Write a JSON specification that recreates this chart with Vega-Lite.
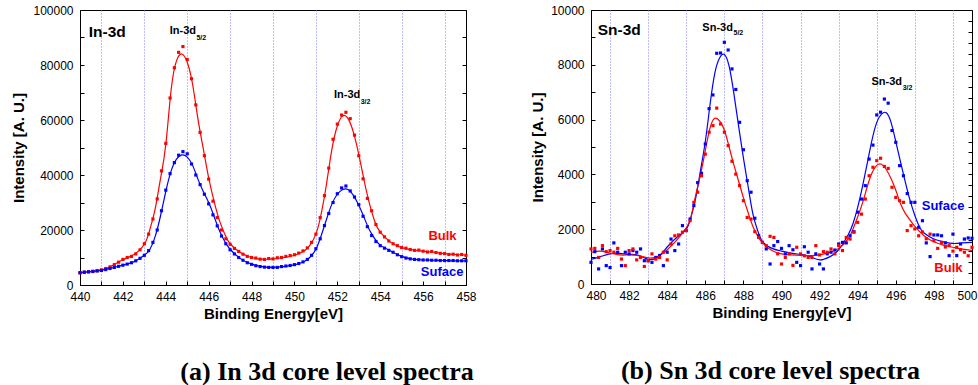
{
 "$schema": "https://vega.github.io/schema/vega-lite/v6.json",
 "background": "white",
 "padding": {"left": 11, "top": 3, "right": 0, "bottom": 0},
 "spacing": 53,
 "config": {
  "view": {"stroke": "black", "strokeWidth": 1},
  "axis": {"labelFont": "Liberation Sans", "labelFontSize": 12, "labelColor": "black", "titleFont": "Liberation Sans", "titleFontSize": 15, "titleFontWeight": "bold", "titleColor": "black", "tickColor": "black", "tickWidth": 1, "domainColor": "black", "domainWidth": 1, "labelFlush": false, "labelOverlap": false},
  "title": {"font": "Liberation Serif", "fontSize": 26, "fontWeight": "bold", "color": "black", "orient": "bottom", "frame": "group", "anchor": "middle"},
  "text": {"font": "Liberation Sans"}
 },
 "datasets": {
  "inPts": [
   {"s":"Bulk","x":440,"y":4400},{"s":"Bulk","x":440.2,"y":4600},{"s":"Bulk","x":440.4,"y":4800},{"s":"Bulk","x":440.6,"y":5000},{"s":"Bulk","x":440.8,"y":5200},
   {"s":"Bulk","x":441,"y":5500},{"s":"Bulk","x":441.2,"y":6000},{"s":"Bulk","x":441.4,"y":6600},{"s":"Bulk","x":441.6,"y":7400},{"s":"Bulk","x":441.8,"y":8300},
   {"s":"Bulk","x":442,"y":9300},{"s":"Bulk","x":442.2,"y":10000},{"s":"Bulk","x":442.4,"y":10400},{"s":"Bulk","x":442.6,"y":11300},{"s":"Bulk","x":442.8,"y":12800},
   {"s":"Bulk","x":443,"y":15000},{"s":"Bulk","x":443.2,"y":18500},{"s":"Bulk","x":443.4,"y":24000},{"s":"Bulk","x":443.6,"y":31300},{"s":"Bulk","x":443.8,"y":41500},
   {"s":"Bulk","x":444,"y":51500},{"s":"Bulk","x":444.2,"y":68000},{"s":"Bulk","x":444.4,"y":79000},{"s":"Bulk","x":444.6,"y":84600},{"s":"Bulk","x":444.8,"y":86700},
   {"s":"Bulk","x":445,"y":82000},{"s":"Bulk","x":445.2,"y":75000},{"s":"Bulk","x":445.4,"y":65500},{"s":"Bulk","x":445.6,"y":55500},{"s":"Bulk","x":445.8,"y":47000},
   {"s":"Bulk","x":446,"y":38500},{"s":"Bulk","x":446.2,"y":30500},{"s":"Bulk","x":446.4,"y":24500},{"s":"Bulk","x":446.6,"y":20000},{"s":"Bulk","x":446.8,"y":16800},
   {"s":"Bulk","x":447,"y":14800},{"s":"Bulk","x":447.2,"y":13300},{"s":"Bulk","x":447.4,"y":12200},{"s":"Bulk","x":447.6,"y":11200},{"s":"Bulk","x":447.8,"y":10400},
   {"s":"Bulk","x":448,"y":10000},{"s":"Bulk","x":448.2,"y":9800},{"s":"Bulk","x":448.4,"y":9400},{"s":"Bulk","x":448.6,"y":9300},{"s":"Bulk","x":448.8,"y":9600},
   {"s":"Bulk","x":449,"y":9500},{"s":"Bulk","x":449.2,"y":9900},{"s":"Bulk","x":449.4,"y":10000},{"s":"Bulk","x":449.6,"y":10400},{"s":"Bulk","x":449.8,"y":10700},
   {"s":"Bulk","x":450,"y":11000},{"s":"Bulk","x":450.2,"y":11600},{"s":"Bulk","x":450.4,"y":12400},{"s":"Bulk","x":450.6,"y":13500},{"s":"Bulk","x":450.8,"y":15500},
   {"s":"Bulk","x":451,"y":18500},{"s":"Bulk","x":451.2,"y":24500},{"s":"Bulk","x":451.4,"y":32500},{"s":"Bulk","x":451.6,"y":42500},{"s":"Bulk","x":451.8,"y":53000},
   {"s":"Bulk","x":452,"y":58500},{"s":"Bulk","x":452.2,"y":61800},{"s":"Bulk","x":452.4,"y":62800},{"s":"Bulk","x":452.6,"y":60500},{"s":"Bulk","x":452.8,"y":54500},
   {"s":"Bulk","x":453,"y":47000},{"s":"Bulk","x":453.2,"y":38600},{"s":"Bulk","x":453.4,"y":31500},{"s":"Bulk","x":453.6,"y":27000},{"s":"Bulk","x":453.8,"y":22000},
   {"s":"Bulk","x":454,"y":19200},{"s":"Bulk","x":454.2,"y":17500},{"s":"Bulk","x":454.4,"y":16000},{"s":"Bulk","x":454.6,"y":15000},{"s":"Bulk","x":454.8,"y":14300},
   {"s":"Bulk","x":455,"y":13600},{"s":"Bulk","x":455.2,"y":13400},{"s":"Bulk","x":455.4,"y":12900},{"s":"Bulk","x":455.6,"y":12600},{"s":"Bulk","x":455.8,"y":12700},
   {"s":"Bulk","x":456,"y":12300},{"s":"Bulk","x":456.2,"y":12000},{"s":"Bulk","x":456.4,"y":12200},{"s":"Bulk","x":456.6,"y":11800},{"s":"Bulk","x":456.8,"y":11500},
   {"s":"Bulk","x":457,"y":11400},{"s":"Bulk","x":457.2,"y":11100},{"s":"Bulk","x":457.4,"y":11200},{"s":"Bulk","x":457.6,"y":10900},{"s":"Bulk","x":457.8,"y":11100},
   {"s":"Bulk","x":458,"y":10800},
   {"s":"Suface","x":440,"y":4500},{"s":"Suface","x":440.2,"y":4700},{"s":"Suface","x":440.4,"y":4800},{"s":"Suface","x":440.6,"y":4900},{"s":"Suface","x":440.8,"y":5100},
   {"s":"Suface","x":441,"y":5300},{"s":"Suface","x":441.2,"y":5600},{"s":"Suface","x":441.4,"y":6000},{"s":"Suface","x":441.6,"y":6400},{"s":"Suface","x":441.8,"y":6800},
   {"s":"Suface","x":442,"y":7200},{"s":"Suface","x":442.2,"y":7600},{"s":"Suface","x":442.4,"y":8100},{"s":"Suface","x":442.6,"y":8800},{"s":"Suface","x":442.8,"y":9700},
   {"s":"Suface","x":443,"y":10800},{"s":"Suface","x":443.2,"y":12500},{"s":"Suface","x":443.4,"y":15500},{"s":"Suface","x":443.6,"y":20000},{"s":"Suface","x":443.8,"y":27000},
   {"s":"Suface","x":444,"y":34500},{"s":"Suface","x":444.2,"y":40500},{"s":"Suface","x":444.4,"y":44500},{"s":"Suface","x":444.6,"y":47200},{"s":"Suface","x":444.8,"y":48500},
   {"s":"Suface","x":445,"y":47700},{"s":"Suface","x":445.2,"y":44000},{"s":"Suface","x":445.4,"y":40000},{"s":"Suface","x":445.6,"y":36500},{"s":"Suface","x":445.8,"y":33000},
   {"s":"Suface","x":446,"y":29500},{"s":"Suface","x":446.2,"y":25500},{"s":"Suface","x":446.4,"y":21500},{"s":"Suface","x":446.6,"y":17800},{"s":"Suface","x":446.8,"y":15000},
   {"s":"Suface","x":447,"y":12800},{"s":"Suface","x":447.2,"y":11300},{"s":"Suface","x":447.4,"y":10000},{"s":"Suface","x":447.6,"y":9000},{"s":"Suface","x":447.8,"y":8100},
   {"s":"Suface","x":448,"y":7500},{"s":"Suface","x":448.2,"y":7000},{"s":"Suface","x":448.4,"y":6700},{"s":"Suface","x":448.6,"y":6500},{"s":"Suface","x":448.8,"y":6400},
   {"s":"Suface","x":449,"y":6400},{"s":"Suface","x":449.2,"y":6400},{"s":"Suface","x":449.4,"y":6700},{"s":"Suface","x":449.6,"y":6900},{"s":"Suface","x":449.8,"y":7100},
   {"s":"Suface","x":450,"y":7400},{"s":"Suface","x":450.2,"y":7800},{"s":"Suface","x":450.4,"y":8400},{"s":"Suface","x":450.6,"y":9300},{"s":"Suface","x":450.8,"y":10800},
   {"s":"Suface","x":451,"y":13200},{"s":"Suface","x":451.2,"y":16800},{"s":"Suface","x":451.4,"y":21600},{"s":"Suface","x":451.6,"y":26000},{"s":"Suface","x":451.8,"y":30000},
   {"s":"Suface","x":452,"y":33200},{"s":"Suface","x":452.2,"y":35300},{"s":"Suface","x":452.4,"y":36000},{"s":"Suface","x":452.6,"y":34200},{"s":"Suface","x":452.8,"y":32000},
   {"s":"Suface","x":453,"y":29200},{"s":"Suface","x":453.2,"y":25000},{"s":"Suface","x":453.4,"y":21200},{"s":"Suface","x":453.6,"y":18000},{"s":"Suface","x":453.8,"y":15800},
   {"s":"Suface","x":454,"y":14300},{"s":"Suface","x":454.2,"y":13400},{"s":"Suface","x":454.4,"y":12600},{"s":"Suface","x":454.6,"y":11900},{"s":"Suface","x":454.8,"y":11000},
   {"s":"Suface","x":455,"y":10300},{"s":"Suface","x":455.2,"y":9800},{"s":"Suface","x":455.4,"y":9500},{"s":"Suface","x":455.6,"y":9300},{"s":"Suface","x":455.8,"y":9200},
   {"s":"Suface","x":456,"y":9100},{"s":"Suface","x":456.2,"y":9100},{"s":"Suface","x":456.4,"y":9000},{"s":"Suface","x":456.6,"y":9000},{"s":"Suface","x":456.8,"y":8900},
   {"s":"Suface","x":457,"y":8900},{"s":"Suface","x":457.2,"y":8900},{"s":"Suface","x":457.4,"y":8900},{"s":"Suface","x":457.6,"y":8800},{"s":"Suface","x":457.8,"y":8800},
   {"s":"Suface","x":458,"y":8800}
  ],
  "inFit": [
   {"s":"Bulk","x":440,"y":4400},{"s":"Bulk","x":440.5,"y":4900},{"s":"Bulk","x":441,"y":5500},{"s":"Bulk","x":441.5,"y":7000},{"s":"Bulk","x":442,"y":9200},
   {"s":"Bulk","x":442.5,"y":11000},{"s":"Bulk","x":443,"y":14800},{"s":"Bulk","x":443.25,"y":20000},{"s":"Bulk","x":443.5,"y":27500},{"s":"Bulk","x":443.75,"y":38500},
   {"s":"Bulk","x":444,"y":51000},{"s":"Bulk","x":444.25,"y":71000},{"s":"Bulk","x":444.5,"y":81500},{"s":"Bulk","x":444.75,"y":84000},{"s":"Bulk","x":445,"y":81000},
   {"s":"Bulk","x":445.25,"y":73000},{"s":"Bulk","x":445.5,"y":60400},{"s":"Bulk","x":445.75,"y":49500},{"s":"Bulk","x":446,"y":39000},{"s":"Bulk","x":446.25,"y":30500},
   {"s":"Bulk","x":446.5,"y":23500},{"s":"Bulk","x":446.75,"y":18500},{"s":"Bulk","x":447,"y":15000},{"s":"Bulk","x":447.5,"y":11700},{"s":"Bulk","x":448,"y":10000},
   {"s":"Bulk","x":448.5,"y":9400},{"s":"Bulk","x":449,"y":9500},{"s":"Bulk","x":449.5,"y":10000},{"s":"Bulk","x":450,"y":10800},{"s":"Bulk","x":450.5,"y":12600},
   {"s":"Bulk","x":450.75,"y":14800},{"s":"Bulk","x":451,"y":18500},{"s":"Bulk","x":451.25,"y":26000},{"s":"Bulk","x":451.5,"y":37000},{"s":"Bulk","x":451.75,"y":49500},
   {"s":"Bulk","x":452,"y":57800},{"s":"Bulk","x":452.25,"y":61500},{"s":"Bulk","x":452.5,"y":60500},{"s":"Bulk","x":452.75,"y":55500},{"s":"Bulk","x":453,"y":47500},
   {"s":"Bulk","x":453.25,"y":38000},{"s":"Bulk","x":453.5,"y":29500},{"s":"Bulk","x":453.75,"y":23000},{"s":"Bulk","x":454,"y":19200},{"s":"Bulk","x":454.5,"y":15500},
   {"s":"Bulk","x":455,"y":13600},{"s":"Bulk","x":455.5,"y":12800},{"s":"Bulk","x":456,"y":12300},{"s":"Bulk","x":456.5,"y":11900},{"s":"Bulk","x":457,"y":11400},
   {"s":"Bulk","x":457.5,"y":11100},{"s":"Bulk","x":458,"y":10900},
   {"s":"Suface","x":440,"y":4500},{"s":"Suface","x":440.5,"y":4850},{"s":"Suface","x":441,"y":5300},{"s":"Suface","x":441.5,"y":6200},{"s":"Suface","x":442,"y":7200},
   {"s":"Suface","x":442.5,"y":8400},{"s":"Suface","x":443,"y":10800},{"s":"Suface","x":443.25,"y":12800},{"s":"Suface","x":443.5,"y":17500},{"s":"Suface","x":443.75,"y":25000},
   {"s":"Suface","x":444,"y":34000},{"s":"Suface","x":444.25,"y":41500},{"s":"Suface","x":444.5,"y":45800},{"s":"Suface","x":444.75,"y":47300},{"s":"Suface","x":445,"y":46500},
   {"s":"Suface","x":445.25,"y":43500},{"s":"Suface","x":445.5,"y":38500},{"s":"Suface","x":445.75,"y":34000},{"s":"Suface","x":446,"y":30000},{"s":"Suface","x":446.25,"y":25000},
   {"s":"Suface","x":446.5,"y":19800},{"s":"Suface","x":446.75,"y":15800},{"s":"Suface","x":447,"y":13000},{"s":"Suface","x":447.5,"y":9500},{"s":"Suface","x":448,"y":7600},
   {"s":"Suface","x":448.5,"y":6700},{"s":"Suface","x":449,"y":6400},{"s":"Suface","x":449.5,"y":6700},{"s":"Suface","x":450,"y":7300},{"s":"Suface","x":450.5,"y":8700},
   {"s":"Suface","x":450.75,"y":10300},{"s":"Suface","x":451,"y":13000},{"s":"Suface","x":451.25,"y":18000},{"s":"Suface","x":451.5,"y":24000},{"s":"Suface","x":451.75,"y":29500},
   {"s":"Suface","x":452,"y":33000},{"s":"Suface","x":452.25,"y":34700},{"s":"Suface","x":452.5,"y":34700},{"s":"Suface","x":452.75,"y":32600},{"s":"Suface","x":453,"y":29000},
   {"s":"Suface","x":453.25,"y":24500},{"s":"Suface","x":453.5,"y":20000},{"s":"Suface","x":453.75,"y":16800},{"s":"Suface","x":454,"y":14500},{"s":"Suface","x":454.5,"y":12300},
   {"s":"Suface","x":455,"y":10400},{"s":"Suface","x":455.5,"y":9400},{"s":"Suface","x":456,"y":9100},{"s":"Suface","x":456.5,"y":9000},{"s":"Suface","x":457,"y":8900},
   {"s":"Suface","x":457.5,"y":8800},{"s":"Suface","x":458,"y":8800}
  ],
  "snPts": [
   {"s":"Suface","x":480,"y":790},{"s":"Suface","x":480.2,"y":1180},{"s":"Suface","x":480.4,"y":550},{"s":"Suface","x":480.6,"y":1280},{"s":"Suface","x":480.8,"y":670},
   {"s":"Suface","x":481,"y":600},{"s":"Suface","x":481.2,"y":1500},{"s":"Suface","x":481.4,"y":1160},{"s":"Suface","x":481.6,"y":670},{"s":"Suface","x":481.8,"y":1160},
   {"s":"Suface","x":482,"y":1100},{"s":"Suface","x":482.2,"y":1220},{"s":"Suface","x":482.4,"y":1160},{"s":"Suface","x":482.6,"y":1280},{"s":"Suface","x":482.8,"y":850},
   {"s":"Suface","x":483,"y":850},{"s":"Suface","x":483.2,"y":790},{"s":"Suface","x":483.4,"y":970},{"s":"Suface","x":483.6,"y":1040},{"s":"Suface","x":483.8,"y":670},
   {"s":"Suface","x":484,"y":1160},{"s":"Suface","x":484.2,"y":1640},{"s":"Suface","x":484.4,"y":1220},{"s":"Suface","x":484.6,"y":1460},{"s":"Suface","x":484.8,"y":2130},
   {"s":"Suface","x":485,"y":1950},{"s":"Suface","x":485.2,"y":2370},{"s":"Suface","x":485.4,"y":2860},{"s":"Suface","x":485.6,"y":3700},{"s":"Suface","x":485.8,"y":4040},
   {"s":"Suface","x":486,"y":5110},{"s":"Suface","x":486.2,"y":6400},{"s":"Suface","x":486.4,"y":6900},{"s":"Suface","x":486.6,"y":8420},{"s":"Suface","x":486.8,"y":8430},
   {"s":"Suface","x":487,"y":8820},{"s":"Suface","x":487.2,"y":8540},{"s":"Suface","x":487.4,"y":7850},{"s":"Suface","x":487.6,"y":7100},{"s":"Suface","x":487.8,"y":5900},
   {"s":"Suface","x":488,"y":4900},{"s":"Suface","x":488.2,"y":3770},{"s":"Suface","x":488.4,"y":3350},{"s":"Suface","x":488.6,"y":2400},{"s":"Suface","x":488.8,"y":1760},
   {"s":"Suface","x":489,"y":1520},{"s":"Suface","x":489.2,"y":1280},{"s":"Suface","x":489.4,"y":730},{"s":"Suface","x":489.6,"y":1400},{"s":"Suface","x":489.8,"y":1550},
   {"s":"Suface","x":490,"y":1300},{"s":"Suface","x":490.2,"y":1100},{"s":"Suface","x":490.4,"y":1400},{"s":"Suface","x":490.6,"y":1250},{"s":"Suface","x":490.8,"y":790},
   {"s":"Suface","x":491,"y":670},{"s":"Suface","x":491.2,"y":1360},{"s":"Suface","x":491.4,"y":1160},{"s":"Suface","x":491.6,"y":550},{"s":"Suface","x":491.8,"y":1100},
   {"s":"Suface","x":492,"y":730},{"s":"Suface","x":492.2,"y":550},{"s":"Suface","x":492.4,"y":1100},{"s":"Suface","x":492.6,"y":1160},{"s":"Suface","x":492.8,"y":1240},
   {"s":"Suface","x":493,"y":1460},{"s":"Suface","x":493.2,"y":1520},{"s":"Suface","x":493.4,"y":1500},{"s":"Suface","x":493.6,"y":1760},{"s":"Suface","x":493.8,"y":1910},
   {"s":"Suface","x":494,"y":2620},{"s":"Suface","x":494.2,"y":3100},{"s":"Suface","x":494.4,"y":3590},{"s":"Suface","x":494.6,"y":4560},{"s":"Suface","x":494.8,"y":5070},
   {"s":"Suface","x":495,"y":6170},{"s":"Suface","x":495.2,"y":6270},{"s":"Suface","x":495.4,"y":6750},{"s":"Suface","x":495.6,"y":6600},{"s":"Suface","x":495.8,"y":5600},
   {"s":"Suface","x":496,"y":5170},{"s":"Suface","x":496.2,"y":4320},{"s":"Suface","x":496.4,"y":3950},{"s":"Suface","x":496.6,"y":3300},{"s":"Suface","x":496.8,"y":2980},
   {"s":"Suface","x":497,"y":2980},{"s":"Suface","x":497.2,"y":2070},{"s":"Suface","x":497.4,"y":2310},{"s":"Suface","x":497.6,"y":1500},{"s":"Suface","x":497.8,"y":1000},
   {"s":"Suface","x":498,"y":1790},{"s":"Suface","x":498.2,"y":1790},{"s":"Suface","x":498.4,"y":1760},{"s":"Suface","x":498.6,"y":1500},{"s":"Suface","x":498.8,"y":1035},
   {"s":"Suface","x":499,"y":1820},{"s":"Suface","x":499.2,"y":1035},{"s":"Suface","x":499.4,"y":1460},{"s":"Suface","x":499.6,"y":1640},{"s":"Suface","x":499.8,"y":1680},
   {"s":"Suface","x":500,"y":1670},
   {"s":"Bulk","x":480,"y":1280},{"s":"Bulk","x":480.2,"y":1300},{"s":"Bulk","x":480.4,"y":970},{"s":"Bulk","x":480.6,"y":1400},{"s":"Bulk","x":480.8,"y":1180},
   {"s":"Bulk","x":481,"y":1220},{"s":"Bulk","x":481.2,"y":1160},{"s":"Bulk","x":481.4,"y":1300},{"s":"Bulk","x":481.6,"y":910},{"s":"Bulk","x":481.8,"y":670},
   {"s":"Bulk","x":482,"y":1220},{"s":"Bulk","x":482.2,"y":1280},{"s":"Bulk","x":482.4,"y":880},{"s":"Bulk","x":482.6,"y":970},{"s":"Bulk","x":482.8,"y":640},
   {"s":"Bulk","x":483,"y":850},{"s":"Bulk","x":483.2,"y":1100},{"s":"Bulk","x":483.4,"y":910},{"s":"Bulk","x":483.6,"y":970},{"s":"Bulk","x":483.8,"y":1160},
   {"s":"Bulk","x":484,"y":880},{"s":"Bulk","x":484.2,"y":1460},{"s":"Bulk","x":484.4,"y":1760},{"s":"Bulk","x":484.6,"y":1790},{"s":"Bulk","x":484.8,"y":1890},
   {"s":"Bulk","x":485,"y":1950},{"s":"Bulk","x":485.2,"y":2310},{"s":"Bulk","x":485.4,"y":2980},{"s":"Bulk","x":485.6,"y":3350},{"s":"Bulk","x":485.8,"y":3950},
   {"s":"Bulk","x":486,"y":4740},{"s":"Bulk","x":486.2,"y":5540},{"s":"Bulk","x":486.4,"y":5780},{"s":"Bulk","x":486.6,"y":6420},{"s":"Bulk","x":486.8,"y":5840},
   {"s":"Bulk","x":487,"y":5540},{"s":"Bulk","x":487.2,"y":5050},{"s":"Bulk","x":487.4,"y":4480},{"s":"Bulk","x":487.6,"y":4010},{"s":"Bulk","x":487.8,"y":3590},
   {"s":"Bulk","x":488,"y":3040},{"s":"Bulk","x":488.2,"y":2430},{"s":"Bulk","x":488.4,"y":2370},{"s":"Bulk","x":488.6,"y":1910},{"s":"Bulk","x":488.8,"y":1700},
   {"s":"Bulk","x":489,"y":1520},{"s":"Bulk","x":489.2,"y":1400},{"s":"Bulk","x":489.4,"y":1740},{"s":"Bulk","x":489.6,"y":1700},{"s":"Bulk","x":489.8,"y":1100},
   {"s":"Bulk","x":490,"y":730},{"s":"Bulk","x":490.2,"y":970},{"s":"Bulk","x":490.4,"y":1100},{"s":"Bulk","x":490.6,"y":680},{"s":"Bulk","x":490.8,"y":1340},
   {"s":"Bulk","x":491,"y":1100},{"s":"Bulk","x":491.2,"y":1030},{"s":"Bulk","x":491.4,"y":970},{"s":"Bulk","x":491.6,"y":970},{"s":"Bulk","x":491.8,"y":1400},
   {"s":"Bulk","x":492,"y":1060},{"s":"Bulk","x":492.2,"y":1180},{"s":"Bulk","x":492.4,"y":1160},{"s":"Bulk","x":492.6,"y":1280},{"s":"Bulk","x":492.8,"y":1100},
   {"s":"Bulk","x":493,"y":1400},{"s":"Bulk","x":493.2,"y":1220},{"s":"Bulk","x":493.4,"y":1700},{"s":"Bulk","x":493.6,"y":1640},{"s":"Bulk","x":493.8,"y":1890},
   {"s":"Bulk","x":494,"y":2250},{"s":"Bulk","x":494.2,"y":2550},{"s":"Bulk","x":494.4,"y":3100},{"s":"Bulk","x":494.6,"y":3950},{"s":"Bulk","x":494.8,"y":4260},
   {"s":"Bulk","x":495,"y":4500},{"s":"Bulk","x":495.2,"y":4590},{"s":"Bulk","x":495.4,"y":4290},{"s":"Bulk","x":495.6,"y":4220},{"s":"Bulk","x":495.8,"y":3530},
   {"s":"Bulk","x":496,"y":3160},{"s":"Bulk","x":496.2,"y":3040},{"s":"Bulk","x":496.4,"y":2980},{"s":"Bulk","x":496.6,"y":1950},{"s":"Bulk","x":496.8,"y":2130},
   {"s":"Bulk","x":497,"y":2010},{"s":"Bulk","x":497.2,"y":1760},{"s":"Bulk","x":497.4,"y":1900},{"s":"Bulk","x":497.6,"y":1650},{"s":"Bulk","x":497.8,"y":1820},
   {"s":"Bulk","x":498,"y":1580},{"s":"Bulk","x":498.2,"y":1300},{"s":"Bulk","x":498.4,"y":1520},{"s":"Bulk","x":498.6,"y":1350},{"s":"Bulk","x":498.8,"y":1400},
   {"s":"Bulk","x":499,"y":1200},{"s":"Bulk","x":499.2,"y":1340},{"s":"Bulk","x":499.4,"y":1250},{"s":"Bulk","x":499.6,"y":1160},{"s":"Bulk","x":499.8,"y":1030},
   {"s":"Bulk","x":500,"y":1340}
  ],
  "snFit": [
   {"s":"Suface","x":480,"y":900},{"s":"Suface","x":480.5,"y":1000},{"s":"Suface","x":481,"y":1100},{"s":"Suface","x":481.5,"y":1120},{"s":"Suface","x":482,"y":1080},
   {"s":"Suface","x":482.5,"y":1050},{"s":"Suface","x":483,"y":900},{"s":"Suface","x":483.5,"y":980},{"s":"Suface","x":484,"y":1350},{"s":"Suface","x":484.5,"y":1700},
   {"s":"Suface","x":485,"y":2000},{"s":"Suface","x":485.25,"y":2450},{"s":"Suface","x":485.5,"y":3150},{"s":"Suface","x":485.75,"y":4150},{"s":"Suface","x":486,"y":5200},
   {"s":"Suface","x":486.25,"y":6550},{"s":"Suface","x":486.5,"y":7700},{"s":"Suface","x":486.75,"y":8250},{"s":"Suface","x":487,"y":8380},{"s":"Suface","x":487.25,"y":7950},
   {"s":"Suface","x":487.5,"y":6950},{"s":"Suface","x":487.75,"y":5750},{"s":"Suface","x":488,"y":4600},{"s":"Suface","x":488.25,"y":3550},{"s":"Suface","x":488.5,"y":2550},
   {"s":"Suface","x":488.75,"y":1950},{"s":"Suface","x":489,"y":1550},{"s":"Suface","x":489.5,"y":1300},{"s":"Suface","x":490,"y":1200},{"s":"Suface","x":490.5,"y":1130},
   {"s":"Suface","x":491,"y":1080},{"s":"Suface","x":491.5,"y":1000},{"s":"Suface","x":492,"y":880},{"s":"Suface","x":492.5,"y":980},{"s":"Suface","x":493,"y":1250},
   {"s":"Suface","x":493.5,"y":1800},{"s":"Suface","x":493.75,"y":2200},{"s":"Suface","x":494,"y":2800},{"s":"Suface","x":494.25,"y":3550},{"s":"Suface","x":494.5,"y":4400},
   {"s":"Suface","x":494.75,"y":5250},{"s":"Suface","x":495,"y":5900},{"s":"Suface","x":495.25,"y":6200},{"s":"Suface","x":495.5,"y":6250},{"s":"Suface","x":495.75,"y":5900},
   {"s":"Suface","x":496,"y":5200},{"s":"Suface","x":496.25,"y":4450},{"s":"Suface","x":496.5,"y":3720},{"s":"Suface","x":496.75,"y":3050},{"s":"Suface","x":497,"y":2500},
   {"s":"Suface","x":497.25,"y":2070},{"s":"Suface","x":497.5,"y":1850},{"s":"Suface","x":498,"y":1640},{"s":"Suface","x":498.5,"y":1540},{"s":"Suface","x":499,"y":1480},
   {"s":"Suface","x":499.5,"y":1500},{"s":"Suface","x":500,"y":1520},
   {"s":"Bulk","x":480,"y":1150},{"s":"Bulk","x":480.5,"y":1200},{"s":"Bulk","x":481,"y":1130},{"s":"Bulk","x":481.5,"y":1060},{"s":"Bulk","x":482,"y":1060},
   {"s":"Bulk","x":482.5,"y":1030},{"s":"Bulk","x":483,"y":950},{"s":"Bulk","x":483.5,"y":1000},{"s":"Bulk","x":484,"y":1250},{"s":"Bulk","x":484.5,"y":1600},
   {"s":"Bulk","x":485,"y":2050},{"s":"Bulk","x":485.25,"y":2450},{"s":"Bulk","x":485.5,"y":3250},{"s":"Bulk","x":485.75,"y":4000},{"s":"Bulk","x":486,"y":4870},
   {"s":"Bulk","x":486.25,"y":5700},{"s":"Bulk","x":486.5,"y":6050},{"s":"Bulk","x":486.75,"y":5950},{"s":"Bulk","x":487,"y":5620},{"s":"Bulk","x":487.25,"y":5000},
   {"s":"Bulk","x":487.5,"y":4350},{"s":"Bulk","x":487.75,"y":3750},{"s":"Bulk","x":488,"y":3150},{"s":"Bulk","x":488.25,"y":2600},{"s":"Bulk","x":488.5,"y":2100},
   {"s":"Bulk","x":488.75,"y":1750},{"s":"Bulk","x":489,"y":1500},{"s":"Bulk","x":489.5,"y":1220},{"s":"Bulk","x":490,"y":1100},{"s":"Bulk","x":490.5,"y":1060},
   {"s":"Bulk","x":491,"y":1040},{"s":"Bulk","x":491.5,"y":1040},{"s":"Bulk","x":492,"y":1060},{"s":"Bulk","x":492.5,"y":1150},{"s":"Bulk","x":493,"y":1300},
   {"s":"Bulk","x":493.5,"y":1650},{"s":"Bulk","x":493.75,"y":2000},{"s":"Bulk","x":494,"y":2450},{"s":"Bulk","x":494.25,"y":2950},{"s":"Bulk","x":494.5,"y":3550},
   {"s":"Bulk","x":494.75,"y":4050},{"s":"Bulk","x":495,"y":4330},{"s":"Bulk","x":495.25,"y":4370},{"s":"Bulk","x":495.5,"y":4180},{"s":"Bulk","x":495.75,"y":3850},
   {"s":"Bulk","x":496,"y":3420},{"s":"Bulk","x":496.25,"y":2930},{"s":"Bulk","x":496.5,"y":2580},{"s":"Bulk","x":496.75,"y":2330},{"s":"Bulk","x":497,"y":2100},
   {"s":"Bulk","x":497.5,"y":1750},{"s":"Bulk","x":498,"y":1540},{"s":"Bulk","x":498.5,"y":1420},{"s":"Bulk","x":499,"y":1340},{"s":"Bulk","x":499.5,"y":1270},
   {"s":"Bulk","x":500,"y":1230}
  ],
  "inLbl": [{"s":"Bulk","x":457.56,"y":17800},{"s":"Suface","x":457.88,"y":4730}],
  "inHead": [{"x":440.41,"y":92000,"t":"In-3d"}],
  "inPeak": [{"x":445.41,"y":92360,"t":"In-3d"},{"x":453.07,"y":69100,"t":"In-3d"}],
  "inSub": [{"x":445.43,"y":89800,"t":"5/2"},{"x":453.09,"y":66540,"t":"3/2"}],
  "snLbl": [{"s":"Suface","x":499.6,"y":2850},{"s":"Bulk","x":499.5,"y":580}],
  "snHead": [{"x":480.35,"y":9270,"t":"Sn-3d"}],
  "snPeak": [{"x":487.45,"y":9340,"t":"Sn-3d"},{"x":496.33,"y":7370,"t":"Sn-3d"}],
  "snSub": [{"x":487.48,"y":9160,"t":"5/2"},{"x":496.36,"y":7150,"t":"3/2"}]
 },
 "hconcat": [
  {
   "width": 386, "height": 275,
   "title": {"text": "(a) In 3d core level spectra", "offset": 38, "dx": 54},
   "resolve": {"axis": {"x": "independent", "y": "independent"}},
   "layer": [
    {"data": {"name": "inFit"},
     "mark": {"type": "line", "interpolate": "natural", "strokeWidth": 1.2, "clip": true},
     "encoding": {
      "x": {"field": "x", "type": "quantitative", "scale": {"domain": [440, 458], "nice": false, "zero": false},
            "axis": {"orient": "bottom", "values": [440,442,444,446,448,450,452,454,456,458], "format": "d", "labelOverlap": false, "labelFlush": false,
                     "tickSize": -4, "labelPadding": 10, "title": "Binding Energy[eV]", "titlePadding": 4, "grid": false}},
      "y": {"field": "y", "type": "quantitative", "scale": {"domain": [0, 100000], "nice": false},
            "axis": {"values": [0,10000,20000,30000,40000,50000,60000,70000,80000,90000,100000], "format": "d",
                     "labelExpr": "datum.value % 20000 === 0 ? datum.label : ''", "labelOverlap": false, "tickSize": -4, "labelPadding": 11,
                     "title": "Intensity [A. U.]", "titlePadding": 6, "grid": false}},
      "color": {"field": "s", "type": "nominal", "scale": {"domain": ["Bulk", "Suface"], "range": ["#ff0000", "#0000ff"]}, "legend": null}
     }},
    {"data": {"name": "inPts"},
     "mark": {"type": "point", "shape": "square", "filled": true, "size": 10, "opacity": 1},
     "encoding": {
      "x": {"field": "x", "type": "quantitative",
            "axis": {"orient": "bottom", "values": [441,443,445,447,449,451,453,455,457], "labels": false, "domain": false, "title": null, "tickSize": -4,
                     "grid": true, "gridColor": "#7b7bff", "gridDash": [1, 2], "gridWidth": 1, "gridOpacity": 1, "minExtent": 0, "maxExtent": 0}},
      "y": {"field": "y", "type": "quantitative", "axis": null},
      "color": {"field": "s", "type": "nominal", "legend": null}
     }},
    {"data": {"name": "inLbl"},
     "mark": {"type": "text", "align": "right", "baseline": "middle", "fontSize": 13, "fontWeight": "bold"},
     "encoding": {
      "x": {"field": "x", "type": "quantitative", "axis": null},
      "y": {"field": "y", "type": "quantitative",
            "axis": {"orient": "right", "values": [0,10000,20000,30000,40000,50000,60000,70000,80000,90000,100000], "labels": false, "tickSize": -4, "title": null, "domain": false, "grid": false}},
      "color": {"field": "s", "type": "nominal", "legend": null},
      "text": {"field": "s"}
     }},
    {"data": {"name": "inHead"},
     "mark": {"type": "text", "align": "left", "baseline": "middle", "fontSize": 15.5, "fontWeight": "bold", "color": "black"},
     "encoding": {"x": {"field": "x", "type": "quantitative", "axis": null}, "y": {"field": "y", "type": "quantitative", "axis": null}, "text": {"field": "t"}}},
    {"data": {"name": "inPeak"},
     "mark": {"type": "text", "align": "right", "baseline": "middle", "fontSize": 11, "fontWeight": "bold", "color": "black"},
     "encoding": {"x": {"field": "x", "type": "quantitative", "axis": null}, "y": {"field": "y", "type": "quantitative", "axis": null}, "text": {"field": "t"}}},
    {"data": {"name": "inSub"},
     "mark": {"type": "text", "align": "left", "baseline": "middle", "fontSize": 7, "fontWeight": "bold", "color": "black"},
     "encoding": {"x": {"field": "x", "type": "quantitative", "axis": null}, "y": {"field": "y", "type": "quantitative", "axis": null}, "text": {"field": "t"}}}
   ]
  },
  {
   "width": 381, "height": 274,
   "title": {"text": "(b) Sn 3d core level spectra", "offset": 38, "dx": -11},
   "resolve": {"axis": {"x": "independent", "y": "independent"}},
   "layer": [
    {"data": {"name": "snFit"},
     "mark": {"type": "line", "interpolate": "natural", "strokeWidth": 1.2, "clip": true},
     "encoding": {
      "x": {"field": "x", "type": "quantitative", "scale": {"domain": [480, 500], "nice": false, "zero": false},
            "axis": {"orient": "bottom", "values": [480,482,484,486,488,490,492,494,496,498,500], "format": "d", "labelOverlap": false, "labelFlush": true, "labelFlushOffset": 5,
                     "tickSize": -4, "labelPadding": 10, "title": "Binding Energy[eV]", "titlePadding": 4, "grid": false}},
      "y": {"field": "y", "type": "quantitative", "scale": {"domain": [0, 10000], "nice": false},
            "axis": {"values": [0,1000,2000,3000,4000,5000,6000,7000,8000,9000,10000], "format": "d",
                     "labelExpr": "datum.value % 2000 === 0 ? datum.label : ''", "labelOverlap": false, "tickSize": -4, "labelPadding": 11,
                     "title": "Intensity [A. U.]", "titlePadding": 5, "grid": false}},
      "color": {"field": "s", "type": "nominal", "scale": {"domain": ["Bulk", "Suface"], "range": ["#ff0000", "#0000ff"]}, "legend": null}
     }},
    {"data": {"name": "snPts"},
     "mark": {"type": "point", "shape": "square", "filled": true, "size": 10, "opacity": 1},
     "encoding": {
      "x": {"field": "x", "type": "quantitative",
            "axis": {"orient": "bottom", "values": [481,483,485,487,489,491,493,495,497,499], "labels": false, "domain": false, "title": null, "tickSize": -4,
                     "grid": true, "gridColor": "#7b7bff", "gridDash": [1, 2], "gridWidth": 1, "gridOpacity": 1, "minExtent": 0, "maxExtent": 0}},
      "y": {"field": "y", "type": "quantitative", "axis": null},
      "color": {"field": "s", "type": "nominal", "legend": null}
     }},
    {"data": {"name": "snLbl"},
     "mark": {"type": "text", "align": "right", "baseline": "middle", "fontSize": 13, "fontWeight": "bold"},
     "encoding": {
      "x": {"field": "x", "type": "quantitative", "axis": null},
      "y": {"field": "y", "type": "quantitative",
            "axis": {"orient": "right", "values": [0,400,800,1200,1600,2000,2400,2800,3200,3600,4000,4400,4800,5200,5600,6000,6400,6800,7200,7600,8000,8400,8800,9200,9600,10000], "labels": false, "tickSize": -4, "title": null, "domain": false, "grid": false}},
      "color": {"field": "s", "type": "nominal", "legend": null},
      "text": {"field": "s"}
     }},
    {"data": {"name": "snHead"},
     "mark": {"type": "text", "align": "left", "baseline": "middle", "fontSize": 15.5, "fontWeight": "bold", "color": "black"},
     "encoding": {"x": {"field": "x", "type": "quantitative", "axis": null}, "y": {"field": "y", "type": "quantitative", "axis": null}, "text": {"field": "t"}}},
    {"data": {"name": "snPeak"},
     "mark": {"type": "text", "align": "right", "baseline": "middle", "fontSize": 11, "fontWeight": "bold", "color": "black"},
     "encoding": {"x": {"field": "x", "type": "quantitative", "axis": null}, "y": {"field": "y", "type": "quantitative", "axis": null}, "text": {"field": "t"}}},
    {"data": {"name": "snSub"},
     "mark": {"type": "text", "align": "left", "baseline": "middle", "fontSize": 7, "fontWeight": "bold", "color": "black"},
     "encoding": {"x": {"field": "x", "type": "quantitative", "axis": null}, "y": {"field": "y", "type": "quantitative", "axis": null}, "text": {"field": "t"}}}
   ]
  }
 ]
}
